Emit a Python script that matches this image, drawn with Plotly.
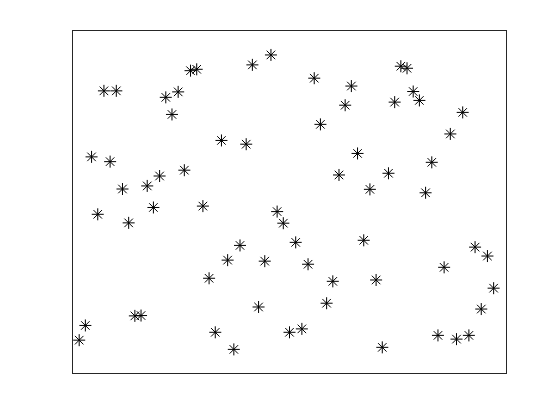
import plotly.graph_objects as go

x_vals = list(range(1, 69))
y_vals = [0.096, 0.139, 0.632, 0.464, 0.825, 0.618, 0.825, 0.538, 0.439, 0.167,
          0.168, 0.547, 0.484, 0.576, 0.806, 0.756, 0.822, 0.593, 0.884, 0.888,
          0.488, 0.277, 0.119, 0.680, 0.330, 0.069, 0.373, 0.669, 0.901, 0.193,
          0.327, 0.930, 0.472, 0.438, 0.119, 0.382, 0.129, 0.318, 0.862, 0.727,
          0.204, 0.268, 0.579, 0.783, 0.839, 0.642, 0.388, 0.537, 0.272, 0.075,
          0.584, 0.792, 0.897, 0.891, 0.823, 0.797, 0.527, 0.616, 0.110, 0.309,
          0.699, 0.099, 0.762, 0.110, 0.368, 0.187, 0.342, 0.248]

x_range = [0, 70]
y_range = [0, 1]

fig = go.Figure(go.Scatter(
    x=x_vals, y=y_vals, mode="markers",
    marker=dict(symbol="asterisk-open", size=10, color="black",
                line=dict(color="black", width=1)),
    showlegend=False,
))

axis_common = dict(showgrid=False, zeroline=False, showticklabels=False,
                   ticks="", showline=True, linecolor="#262626", linewidth=1,
                   mirror=True)
fig.update_xaxes(range=x_range, **axis_common)
fig.update_yaxes(range=y_range, **axis_common)

fig.update_layout(width=560, height=420,
                  margin=dict(l=73, r=54, t=31, b=47),
                  paper_bgcolor="white", plot_bgcolor="white")

fig.write_html("out.html")
